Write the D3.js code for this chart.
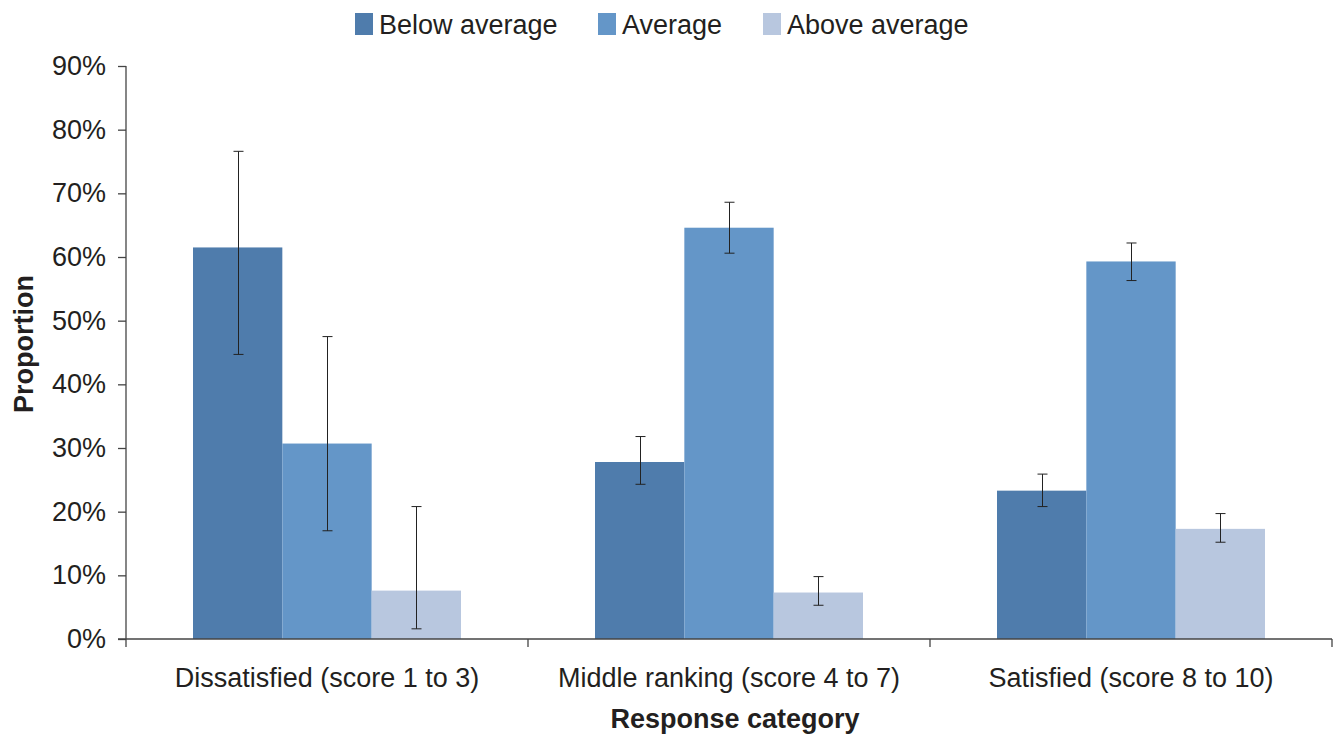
<!DOCTYPE html>
<html>
<head>
<meta charset="utf-8">
<script src="https://cdn.jsdelivr.net/npm/d3@7"></script>
<style>
  body { margin: 0; background: #fff; }
  svg { display: block; font-family: "Liberation Sans", Arial, sans-serif; }
</style>
</head>
<body>
<div id="chart"></div>
<script>
var categories = ['Dissatisfied (score 1 to 3)', 'Middle ranking (score 4 to 7)', 'Satisfied (score 8 to 10)'];
var seriesNames = ['Below average', 'Average', 'Above average'];
var belowValues = [0.615, 0.278, 0.233];
var averageValues = [0.307, 0.646, 0.593];
var aboveValues = [0.076, 0.073, 0.173];
var belowErrLow = [0.447, 0.243, 0.208];
var belowErrHigh = [0.766, 0.318, 0.259];
var averageErrLow = [0.170, 0.606, 0.563];
var averageErrHigh = [0.475, 0.686, 0.622];
var aboveErrLow = [0.016, 0.053, 0.152];
var aboveErrHigh = [0.208, 0.098, 0.197];
var yTicks = [0, 0.1, 0.2, 0.3, 0.4, 0.5, 0.6, 0.7, 0.8, 0.9];

var colors = ['#4f7cac', '#6496c8', '#b8c7df'];
var W = 1341, H = 736;
var margin = {left: 126, right: 9, top: 66, bottom: 97};
var fs = 27;

var svg = d3.select('#chart').append('svg')
  .attr('width', W).attr('height', H);

var y = d3.scaleLinear().domain([0, 0.9]).range([H - margin.bottom, margin.top]);
var x0 = d3.scaleBand().domain(categories).range([margin.left, W - margin.right]).padding(0);
var bw = x0.bandwidth();
var x1 = d3.scaleBand().domain(seriesNames).range([bw / 6, bw * 5 / 6]).padding(0);

var rows = [];
var vals = [belowValues, averageValues, aboveValues];
var lows = [belowErrLow, averageErrLow, aboveErrLow];
var highs = [belowErrHigh, averageErrHigh, aboveErrHigh];
categories.forEach(function (c, i) {
  seriesNames.forEach(function (s, j) {
    rows.push({cat: c, series: s, idx: j, v: vals[j][i], lo: lows[j][i], hi: highs[j][i]});
  });
});

// bars
svg.append('g').selectAll('rect')
  .data(rows).enter().append('rect')
  .attr('x', function (d) { return x0(d.cat) + x1(d.series); })
  .attr('width', x1.bandwidth())
  .attr('y', function (d) { return y(d.v); })
  .attr('height', function (d) { return y(0) - y(d.v); })
  .attr('fill', function (d) { return colors[d.idx]; });

// error bars
var err = svg.append('g').attr('stroke', '#222').attr('stroke-width', 1);
rows.forEach(function (d) {
  var cx = Math.round(x0(d.cat) + x1(d.series) + x1.bandwidth() / 2) + 0.5;
  err.append('line').attr('x1', cx).attr('x2', cx).attr('y1', y(d.lo)).attr('y2', y(d.hi));
  err.append('line').attr('x1', cx - 5).attr('x2', cx + 5).attr('y1', y(d.lo)).attr('y2', y(d.lo));
  err.append('line').attr('x1', cx - 5).attr('x2', cx + 5).attr('y1', y(d.hi)).attr('y2', y(d.hi));
});

// y axis
var yAxis = svg.append('g')
  .attr('transform', 'translate(' + margin.left + ',0)')
  .call(d3.axisLeft(y).tickValues(yTicks).tickSize(8).tickPadding(12)
    .tickFormat(function (d) { return Math.round(d * 100) + '%'; }));
yAxis.selectAll('text').attr('font-size', fs).attr('fill', '#231f20')
  .attr('font-family', '"Liberation Sans", Arial, sans-serif');
yAxis.selectAll('line, path').attr('stroke', '#444').attr('stroke-width', 1.3);
yAxis.select('.domain').attr('d', 'M0,' + y(0.9) + 'V' + y(0));

// x axis
var xAxis = svg.append('g')
  .attr('transform', 'translate(0,' + y(0) + ')');
xAxis.append('line')
  .attr('x1', margin.left - 8).attr('x2', W - margin.right)
  .attr('stroke', '#444').attr('stroke-width', 1.3);
var bounds = categories.map(function (c) { return x0(c); }).concat([x0(categories[2]) + bw]);
xAxis.selectAll('.tk').data(bounds).enter().append('line')
  .attr('x1', function (d) { return d; }).attr('x2', function (d) { return d; })
  .attr('y1', 0).attr('y2', 8)
  .attr('stroke', '#444').attr('stroke-width', 1.3);
xAxis.selectAll('.lbl').data(categories).enter().append('text')
  .attr('x', function (d) { return x0(d) + bw / 2; })
  .attr('y', 48)
  .attr('text-anchor', 'middle')
  .attr('font-size', fs)
  .attr('fill', '#231f20')
  .text(function (d) { return d; });

// axis titles
svg.append('text')
  .attr('x', (margin.left + W - margin.right) / 2 + 6).attr('y', 728)
  .attr('text-anchor', 'middle').attr('font-size', fs).attr('font-weight', 'bold')
  .attr('fill', '#231f20')
  .text('Response category');
svg.append('text')
  .attr('transform', 'translate(33,' + 344 + ') rotate(-90)')
  .attr('text-anchor', 'middle').attr('font-size', fs).attr('font-weight', 'bold')
  .attr('fill', '#231f20')
  .text('Proportion');

// legend
var legendX = [355, 598, 763];
var legend = svg.append('g');
seriesNames.forEach(function (s, i) {
  legend.append('rect').attr('x', legendX[i]).attr('y', 13)
    .attr('width', 18).attr('height', 22).attr('fill', colors[i]);
  legend.append('text').attr('x', legendX[i] + 24).attr('y', 34)
    .attr('font-size', fs).attr('fill', '#231f20').text(s);
});
</script>
</body>
</html>
